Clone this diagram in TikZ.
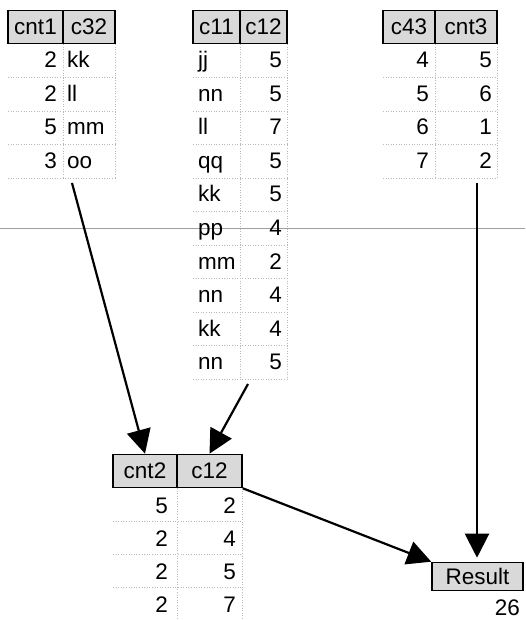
\documentclass[tikz,border=0pt]{standalone}
\usepackage{fontspec}
\setmainfont{Liberation Sans}
\usetikzlibrary{arrows.meta}
\begin{document}
\begin{tikzpicture}[x=1pt,y=-1pt,
  every node/.style={font=\fontsize{22.5}{26}\selectfont},
  hdr/.style={draw=black, line width=1.6pt, fill=gray!30, minimum height=33pt, inner sep=0pt, anchor=center},
  num/.style={anchor=east, inner sep=0pt, text height=16pt, text depth=0pt},
  txt/.style={anchor=west, inner sep=0pt, text height=16pt, text depth=0pt},
  gridline/.style={gray!55, dotted, line width=0.6pt},
  arr/.style={line width=2.2pt, -{Triangle[length=24pt,width=24pt]}}
]
\useasboundingbox (0,0) rectangle (525,620);

% grey horizontal rule
\coordinate (hl1) at (0,228);
\coordinate (hl2) at (525,228);
\draw[gray!75, line width=0.9pt] (hl1) -- (hl2);

% dotted grids
\foreach \k in {1,...,4} \draw[gridline] (8,{44+33.5*\k}) -- (115,{44+33.5*\k});
\draw[gridline] (63,44) -- (63,178); \draw[gridline] (115,44) -- (115,178);
\foreach \k in {1,...,10} \draw[gridline] (193,{44+33.5*\k}) -- (287,{44+33.5*\k});
\draw[gridline] (240,44) -- (240,379); \draw[gridline] (287,44) -- (287,379);
\foreach \k in {1,...,4} \draw[gridline] (383,{44+33.5*\k}) -- (497,{44+33.5*\k});
\draw[gridline] (435,44) -- (435,178); \draw[gridline] (497,44) -- (497,178);
\foreach \k in {1,...,4} \draw[gridline] (113,{488+33*\k}) -- (242,{488+33*\k});
\draw[gridline] (177,488) -- (177,620); \draw[gridline] (242,488) -- (242,620);

% headers
\node[hdr, minimum width=55pt] (h1a) at (35.5,27) {cnt1};
\node[hdr, minimum width=52pt] (h1b) at (89,27) {c32};
\node[hdr, minimum width=47pt] (h2a) at (216.5,27) {c11};
\node[hdr, minimum width=47pt] (h2b) at (263.5,27) {c12};
\node[hdr, minimum width=52pt] (h3a) at (409,27) {c43};
\node[hdr, minimum width=62pt] (h3b) at (466,27) {cnt3};
\node[hdr, minimum width=64pt] (b1) at (145,471) {cnt2};
\node[hdr, minimum width=65pt] (b2) at (209.5,471) {c12};
\node[hdr, minimum width=91pt, minimum height=28pt] (res) at (477.5,576.5) {Result};
\node[num] (r26) at (520,607) {26};

% left table
\foreach \a/\b [count=\i] in {2/kk,2/ll,5/mm,3/oo} {
  \node[num] (la\i) at (57,{26.5+33.5*\i}) {\a};
  \node[txt] (lb\i) at (67,{26.5+33.5*\i}) {\b};
}
% middle table
\foreach \a/\b [count=\i] in {jj/5,nn/5,ll/7,qq/5,kk/5,pp/4,mm/2,nn/4,kk/4,nn/5} {
  \node[txt] (ma\i) at (198,{26.5+33.5*\i}) {\a};
  \node[num] (mb\i) at (282,{26.5+33.5*\i}) {\b};
}
% right table
\foreach \a/\b [count=\i] in {4/5,5/6,6/1,7/2} {
  \node[num] (ra\i) at (429,{26.5+33.5*\i}) {\a};
  \node[num] (rb\i) at (492,{26.5+33.5*\i}) {\b};
}
% bottom table
\foreach \a/\b [count=\i] in {5/2,2/4,2/5,2/7} {
  \node[num] (ba\i) at (168,{472+33*\i}) {\a};
  \node[num] (bb\i) at (236,{472+33*\i}) {\b};
}

% arrows
\coordinate (t1) at (72,183);
\coordinate (t2) at (248,384);
\coordinate (t3) at (477,183);
\draw[arr] (t1) -- (b1.north);
\draw[arr] (t2) -- (b2.north);
\draw[arr, shorten >=4pt] (t3) -- (t3 |- res.north);
\draw[arr] (b2.south east) -- (res.north west);
\end{tikzpicture}
\end{document}
